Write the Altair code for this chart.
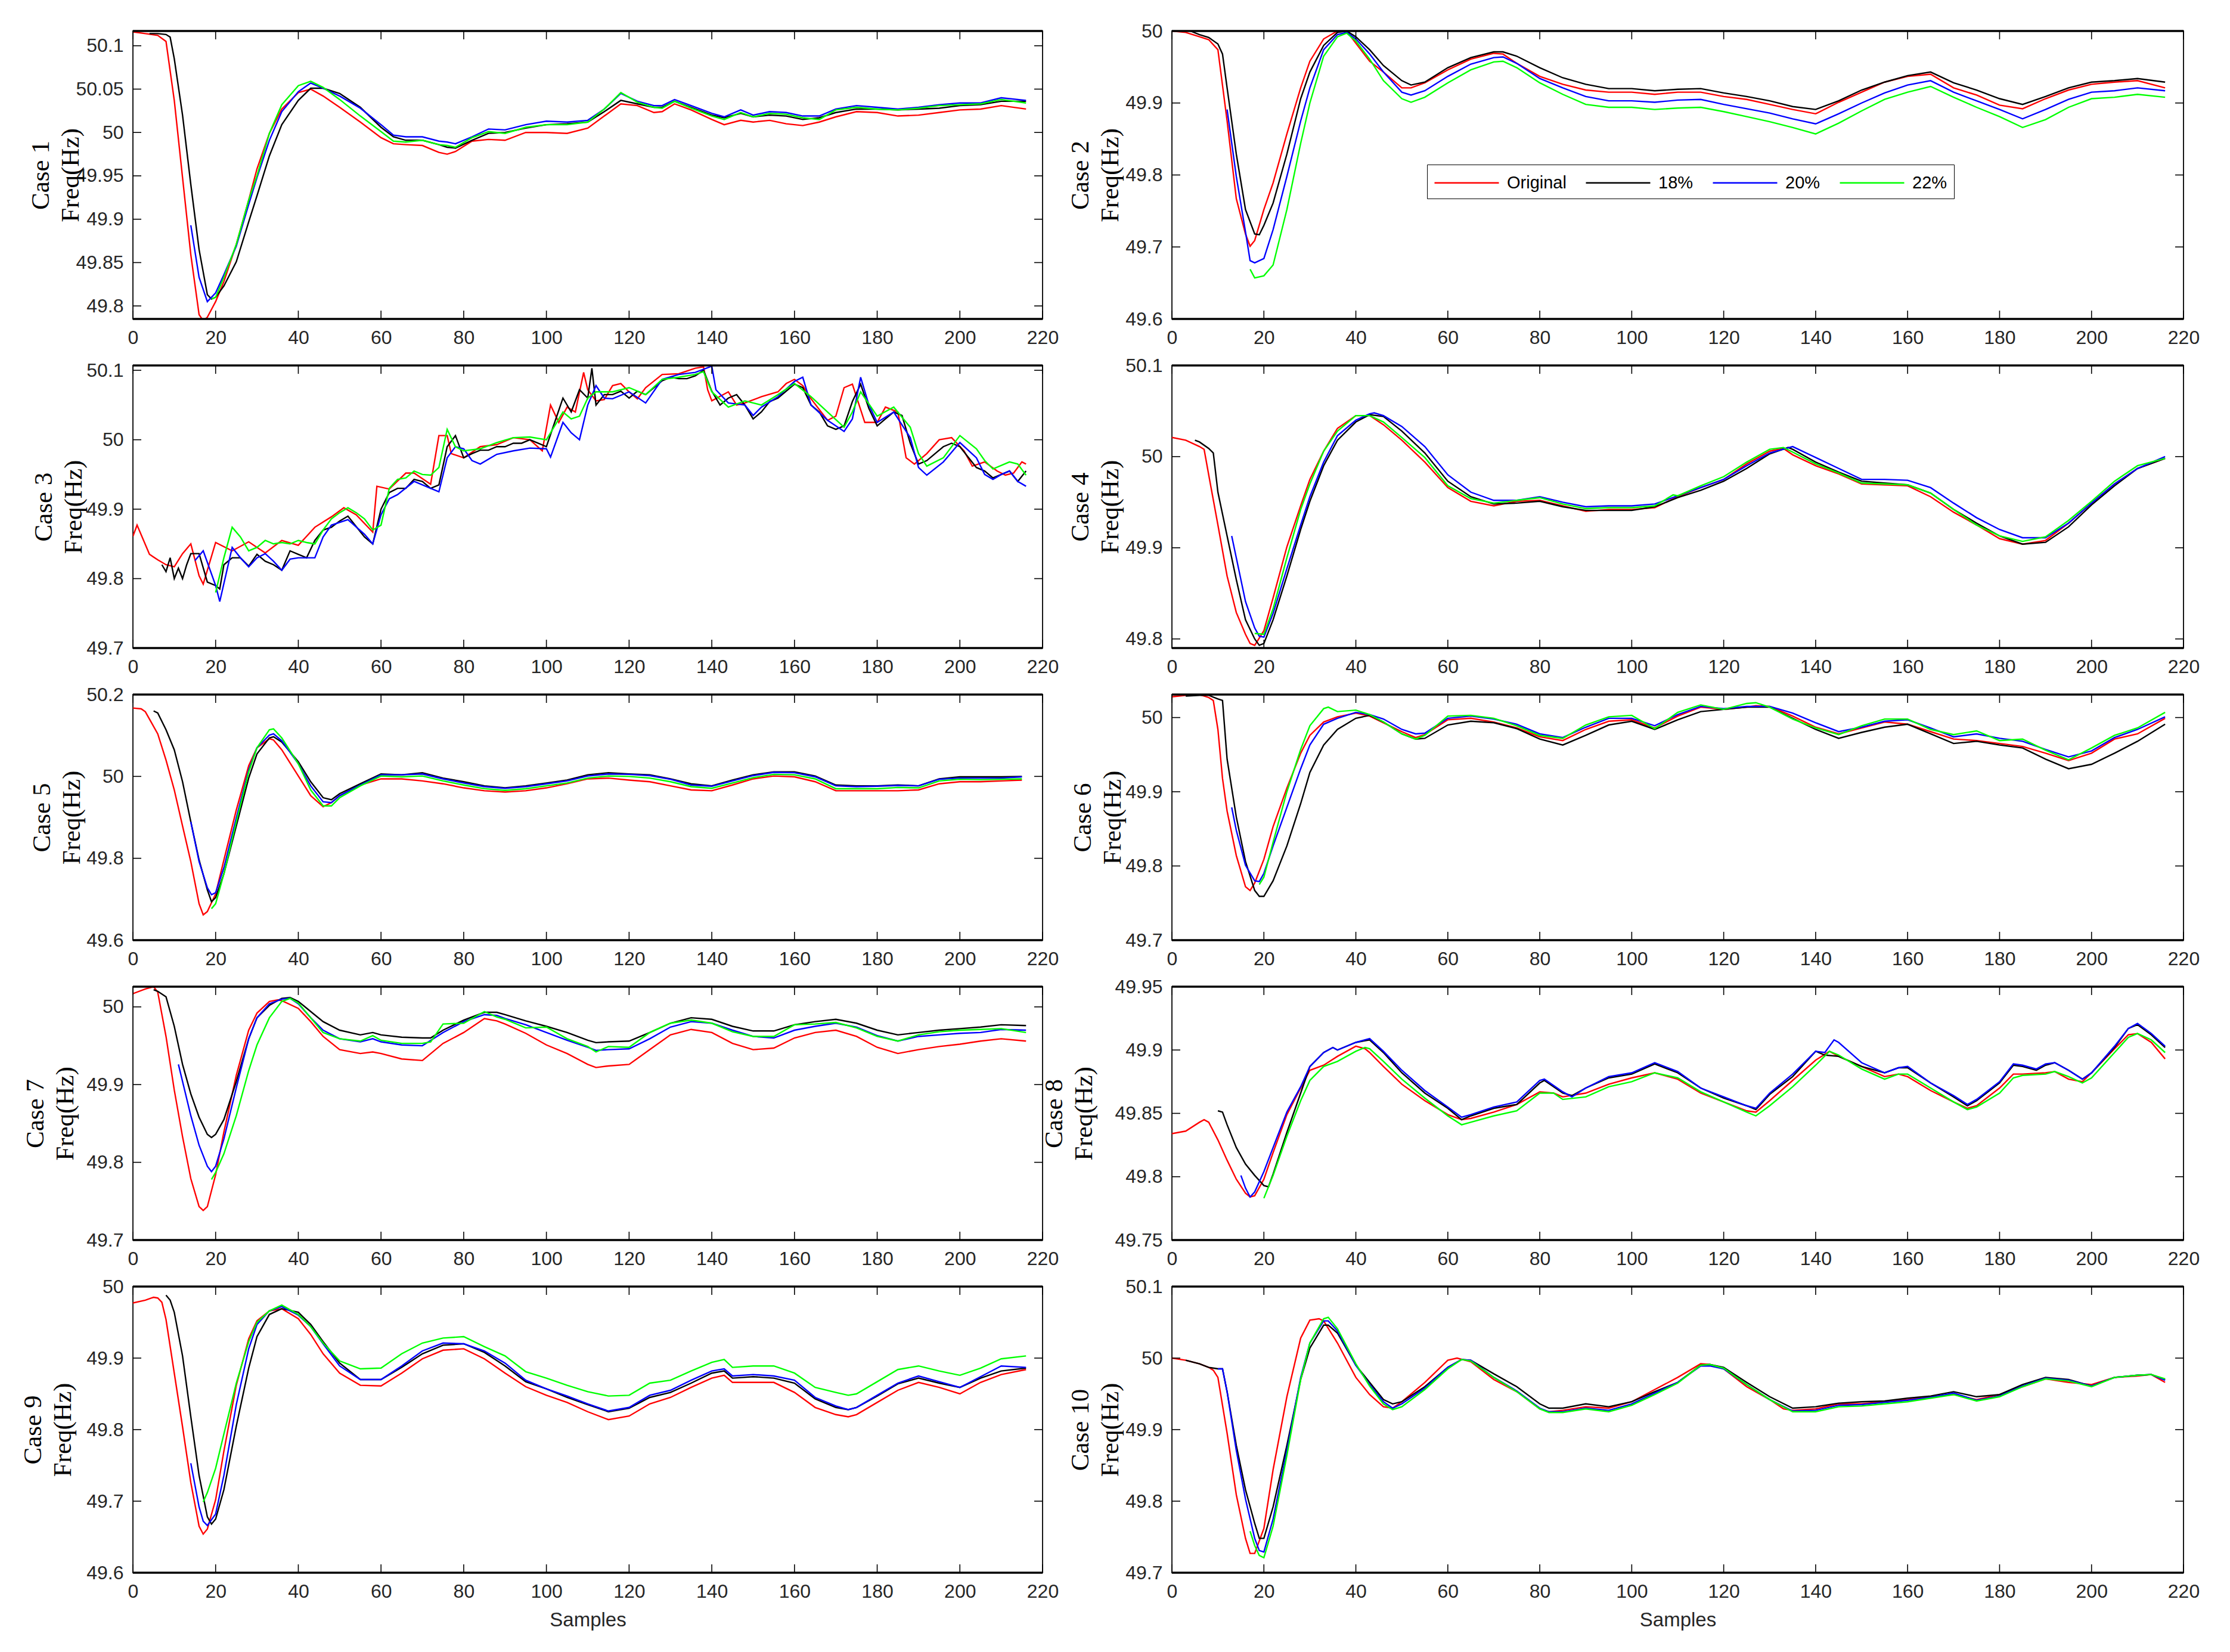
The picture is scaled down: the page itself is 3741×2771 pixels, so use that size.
import altair as alt
import pandas as pd

SERIES = ["Original", "18%", "20%", "22%"]
COLORS = ["#ff0000", "#000000", "#0000ff", "#00ff00"]
X_TICKS = [0, 20, 40, 60, 80, 100, 120, 140, 160, 180, 200, 220]

# ---------------- Case 1 ----------------
C1_ORIG = [(0,50.116),(3,50.114),(6,50.112),(8,50.105),(10,50.037),(12,49.948),(14,49.859),(16,49.79),(17,49.783),(18,49.787),(20,49.805),(22,49.828),(25,49.871),(28,49.922),(30,49.958),(33,49.999),(36,50.027),(40,50.046),(43,50.05),(46,50.042),(50,50.029),(55,50.012),(60,49.994),(63,49.987),(66,49.986),(70,49.985),(74,49.977),(76,49.975),(78,49.978),(82,49.99),(86,49.992),(90,49.991),(95,50.0),(100,50.0),(105,49.999),(110,50.005),(114,50.019),(118,50.033),(122,50.031),(126,50.023),(128,50.024),(131,50.033),(135,50.026),(140,50.015),(143,50.009),(147,50.014),(150,50.012),(154,50.014),(158,50.01),(162,50.008),(166,50.012),(170,50.018),(175,50.024),(180,50.023),(185,50.019),(190,50.02),(195,50.023),(200,50.026),(205,50.027),(210,50.031),(216,50.027)]
C1_P18 = [(4,50.114),(6,50.114),(8,50.113),(9,50.11),(10,50.085),(12,50.02),(14,49.94),(16,49.865),(18,49.813),(19,49.808),(20,49.81),(22,49.823),(25,49.851),(28,49.897),(30,49.927),(33,49.973),(36,50.009),(40,50.037),(43,50.051),(46,50.051),(50,50.045),(55,50.029),(60,50.006),(63,49.995),(66,49.991),(70,49.991),(74,49.986),(76,49.983),(78,49.982),(82,49.991),(86,49.999),(90,50.0),(95,50.005),(100,50.009),(105,50.01),(110,50.012),(114,50.024),(118,50.037),(122,50.033),(126,50.029),(128,50.029),(131,50.036),(135,50.029),(140,50.02),(143,50.017),(147,50.022),(150,50.018),(154,50.02),(158,50.019),(162,50.015),(166,50.017),(170,50.023),(175,50.027),(180,50.027),(185,50.026),(190,50.027),(195,50.028),(200,50.031),(205,50.032),(210,50.036),(216,50.036)]
C1_P20 = [(14,49.893),(16,49.833),(18,49.805),(20,49.815),(22,49.836),(25,49.869),(28,49.917),(30,49.948),(33,49.991),(36,50.024),(40,50.047),(43,50.057),(46,50.051),(50,50.042),(55,50.028),(60,50.009),(63,49.997),(66,49.995),(70,49.995),(74,49.99),(76,49.989),(78,49.987),(82,49.995),(86,50.004),(90,50.003),(95,50.009),(100,50.013),(105,50.012),(110,50.014),(114,50.027),(118,50.045),(122,50.036),(126,50.031),(128,50.031),(131,50.038),(135,50.031),(140,50.022),(143,50.018),(147,50.026),(150,50.02),(154,50.024),(158,50.023),(162,50.019),(166,50.019),(170,50.027),(175,50.031),(180,50.029),(185,50.027),(190,50.029),(195,50.032),(200,50.034),(205,50.034),(210,50.04),(216,50.037)]
C1_P22 = [(19,49.808),(20,49.81),(22,49.833),(25,49.871),(28,49.922),(30,49.95),(33,49.999),(36,50.032),(40,50.054),(43,50.059),(46,50.052),(50,50.038),(55,50.019),(60,50.001),(63,49.99),(66,49.989),(70,49.991),(74,49.986),(76,49.985),(78,49.983),(82,49.994),(86,50.001),(90,49.999),(95,50.006),(100,50.009),(105,50.009),(110,50.012),(114,50.027),(118,50.046),(122,50.035),(126,50.029),(128,50.028),(131,50.036),(135,50.028),(140,50.019),(143,50.015),(147,50.023),(150,50.018),(154,50.022),(158,50.021),(162,50.017),(166,50.015),(170,50.026),(175,50.029),(180,50.027),(185,50.026),(190,50.028),(195,50.031),(200,50.032),(205,50.033),(210,50.038),(216,50.034)]

# ---------------- Case 2 ----------------
C2_ORIG = [(0,50.0),(3,49.998),(6,49.992),(8,49.988),(10,49.974),(12,49.875),(14,49.767),(16,49.718),(17,49.701),(18,49.709),(20,49.752),(22,49.789),(25,49.857),(28,49.921),(30,49.958),(33,49.989),(36,50.0),(38,50.0),(40,49.983),(43,49.958),(46,49.943),(50,49.921),(52,49.921),(55,49.928),(60,49.946),(65,49.961),(70,49.969),(72,49.968),(75,49.955),(80,49.937),(85,49.926),(90,49.918),(95,49.915),(100,49.915),(105,49.912),(110,49.915),(115,49.915),(120,49.909),(125,49.905),(130,49.898),(135,49.891),(140,49.885),(145,49.901),(150,49.915),(155,49.929),(160,49.937),(165,49.94),(170,49.921),(175,49.911),(180,49.897),(185,49.892),(190,49.906),(195,49.918),(200,49.926),(205,49.929),(210,49.931),(216,49.921)]
C2_P18 = [(4,50.0),(6,49.995),(8,49.991),(10,49.982),(11,49.968),(12,49.921),(14,49.829),(16,49.752),(18,49.718),(19,49.717),(20,49.73),(22,49.761),(25,49.829),(28,49.906),(30,49.943),(33,49.98),(36,49.998),(38,50.0),(40,49.992),(43,49.974),(46,49.952),(50,49.931),(52,49.925),(55,49.929),(60,49.949),(65,49.963),(70,49.971),(72,49.971),(75,49.965),(80,49.949),(85,49.935),(90,49.926),(95,49.92),(100,49.92),(105,49.917),(110,49.919),(115,49.92),(120,49.914),(125,49.909),(130,49.903),(135,49.895),(140,49.891),(145,49.903),(150,49.918),(155,49.929),(160,49.938),(165,49.943),(170,49.928),(175,49.918),(180,49.906),(185,49.898),(190,49.909),(195,49.921),(200,49.929),(205,49.931),(210,49.934),(216,49.929)]
C2_P20 = [(12,49.891),(14,49.798),(16,49.721),(17,49.681),(18,49.678),(20,49.684),(22,49.724),(25,49.798),(28,49.875),(30,49.921),(33,49.974),(36,49.995),(38,49.998),(40,49.989),(43,49.968),(46,49.943),(50,49.915),(52,49.911),(55,49.917),(60,49.937),(65,49.954),(70,49.963),(72,49.964),(75,49.955),(80,49.934),(85,49.921),(90,49.909),(95,49.903),(100,49.903),(105,49.901),(110,49.904),(115,49.905),(120,49.898),(125,49.892),(130,49.886),(135,49.878),(140,49.871),(145,49.885),(150,49.9),(155,49.914),(160,49.925),(165,49.931),(170,49.915),(175,49.903),(180,49.891),(185,49.878),(190,49.891),(195,49.905),(200,49.915),(205,49.917),(210,49.921),(216,49.917)]
C2_P22 = [(17,49.669),(18,49.657),(20,49.66),(22,49.675),(25,49.752),(28,49.844),(30,49.9),(33,49.965),(36,49.992),(38,49.997),(40,49.986),(43,49.961),(46,49.931),(50,49.906),(52,49.901),(55,49.908),(60,49.928),(65,49.946),(70,49.957),(72,49.958),(75,49.949),(80,49.928),(85,49.912),(90,49.898),(95,49.894),(100,49.894),(105,49.891),(110,49.893),(115,49.894),(120,49.888),(125,49.881),(130,49.874),(135,49.866),(140,49.857),(145,49.872),(150,49.889),(155,49.905),(160,49.915),(165,49.923),(170,49.908),(175,49.894),(180,49.881),(185,49.866),(190,49.877),(195,49.894),(200,49.906),(205,49.908),(210,49.912),(216,49.908)]

# ---------------- Case 3 ----------------
C3_ORIG = [(0,49.861),(1,49.877),(4,49.835),(6,49.827),(8,49.82),(10,49.817),(12,49.836),(14,49.85),(16,49.804),(17,49.792),(20,49.852),(24,49.84),(28,49.853),(32,49.837),(36,49.855),(40,49.848),(44,49.874),(48,49.889),(51,49.902),(54,49.892),(58,49.867),(59,49.933),(62,49.929),(66,49.952),(68,49.952),(72,49.936),(74,50.006),(76,50.006),(77,49.98),(80,49.974),(84,49.99),(88,49.993),(92,50.003),(96,50.0),(99,49.984),(101,50.05),(103,50.025),(105,50.047),(107,50.04),(109,50.097),(110,50.072),(112,50.056),(114,50.058),(116,50.078),(118,50.081),(120,50.069),(122,50.059),(124,50.075),(128,50.094),(132,50.095),(136,50.103),(138,50.105),(139,50.072),(140,50.056),(144,50.069),(146,50.05),(148,50.053),(152,50.062),(156,50.069),(158,50.081),(160,50.087),(162,50.078),(164,50.059),(168,50.028),(170,50.034),(172,50.075),(174,50.08),(177,50.025),(180,50.025),(182,50.047),(185,50.04),(187,49.974),(189,49.965),(192,49.98),(195,50.0),(198,50.003),(201,49.984),(203,49.962),(206,49.968),(209,49.955),(211,49.949),(213,49.952),(215,49.968),(216,49.965)]
C3_P18 = [(7,49.82),(8,49.81),(9,49.83),(10,49.80),(11,49.815),(12,49.80),(13,49.82),(14,49.836),(16,49.836),(18,49.795),(20,49.79),(21,49.785),(22,49.82),(24,49.83),(26,49.83),(28,49.818),(30,49.835),(32,49.825),(34,49.82),(36,49.812),(38,49.84),(40,49.835),(42,49.83),(44,49.855),(46,49.87),(48,49.874),(50,49.883),(52,49.89),(54,49.875),(56,49.86),(58,49.85),(60,49.9),(62,49.924),(64,49.93),(66,49.93),(68,49.943),(70,49.94),(72,49.93),(74,49.935),(76,49.99),(78,50.006),(80,49.974),(82,49.98),(84,49.985),(86,49.985),(88,49.99),(90,49.99),(92,49.995),(94,49.995),(96,50.0),(98,49.995),(100,49.99),(102,50.025),(104,50.06),(106,50.04),(108,50.072),(110,50.06),(111,50.103),(112,50.05),(114,50.065),(116,50.065),(118,50.07),(120,50.06),(122,50.07),(124,50.065),(126,50.075),(128,50.085),(130,50.09),(132,50.088),(134,50.088),(136,50.092),(138,50.1),(140,50.07),(142,50.05),(144,50.06),(146,50.065),(148,50.05),(150,50.03),(152,50.04),(154,50.055),(156,50.06),(158,50.07),(160,50.08),(162,50.075),(164,50.05),(166,50.04),(168,50.02),(170,50.015),(172,50.02),(174,50.055),(176,50.08),(178,50.045),(180,50.02),(182,50.03),(184,50.04),(186,50.035),(188,49.995),(190,49.965),(192,49.97),(194,49.98),(196,49.99),(198,49.995),(200,49.99),(202,49.975),(204,49.96),(206,49.955),(208,49.945),(210,49.95),(212,49.955),(214,49.94),(216,49.955)]
C3_P20 = [(15,49.826),(17,49.84),(20,49.79),(21,49.767),(24,49.845),(26,49.83),(28,49.817),(30,49.83),(32,49.836),(34,49.825),(36,49.812),(38,49.828),(40,49.83),(44,49.83),(46,49.86),(48,49.877),(52,49.885),(56,49.864),(58,49.85),(60,49.892),(62,49.915),(64,49.921),(68,49.94),(72,49.93),(74,49.925),(76,49.974),(78,49.99),(80,49.987),(82,49.97),(84,49.965),(88,49.979),(92,49.984),(96,49.988),(100,49.987),(101,49.975),(104,50.025),(106,50.01),(108,50.0),(110,50.05),(112,50.078),(114,50.06),(116,50.059),(120,50.069),(124,50.053),(128,50.087),(132,50.094),(136,50.097),(140,50.106),(141,50.072),(144,50.053),(148,50.05),(150,50.035),(152,50.047),(156,50.062),(160,50.084),(162,50.09),(164,50.05),(168,50.028),(172,50.012),(174,50.03),(176,50.09),(178,50.05),(180,50.025),(184,50.04),(188,50.003),(190,49.96),(192,49.949),(196,49.968),(200,49.996),(204,49.974),(206,49.95),(208,49.943),(210,49.95),(212,49.955),(214,49.94),(216,49.933)]
C3_P22 = [(20,49.78),(22,49.83),(24,49.874),(26,49.86),(28,49.84),(30,49.845),(32,49.855),(34,49.85),(36,49.852),(38,49.85),(40,49.855),(42,49.852),(44,49.85),(46,49.87),(48,49.886),(50,49.895),(52,49.902),(54,49.895),(56,49.886),(58,49.87),(60,49.877),(62,49.93),(64,49.943),(66,49.945),(68,49.955),(70,49.95),(72,49.949),(74,49.96),(76,50.015),(78,49.99),(80,49.984),(84,49.987),(88,49.996),(92,50.003),(96,50.004),(100,50.0),(102,50.02),(104,50.04),(106,50.03),(108,50.034),(110,50.06),(112,50.069),(116,50.069),(120,50.075),(124,50.065),(128,50.087),(132,50.09),(136,50.094),(138,50.098),(140,50.069),(144,50.047),(148,50.056),(152,50.05),(156,50.065),(160,50.081),(164,50.062),(168,50.04),(172,50.018),(174,50.04),(176,50.069),(180,50.034),(184,50.047),(188,50.018),(190,49.98),(192,49.962),(196,49.974),(200,50.006),(204,49.987),(206,49.97),(208,49.958),(212,49.968),(214,49.965),(216,49.949)]

# ---------------- Case 4 ----------------
C4_ORIG = [(0,50.021),(3,50.018),(6,50.011),(7,50.008),(8,49.98),(10,49.925),(12,49.869),(14,49.829),(16,49.805),(17,49.795),(18,49.793),(20,49.809),(22,49.845),(25,49.901),(28,49.946),(30,49.975),(33,50.006),(36,50.031),(40,50.045),(43,50.045),(46,50.035),(50,50.018),(55,49.994),(60,49.966),(65,49.951),(70,49.946),(75,49.951),(80,49.952),(85,49.946),(90,49.94),(95,49.942),(100,49.942),(105,49.944),(110,49.956),(115,49.966),(120,49.975),(125,49.992),(130,50.006),(133,50.009),(135,50.002),(140,49.99),(145,49.981),(150,49.97),(155,49.969),(160,49.968),(165,49.956),(170,49.939),(175,49.925),(180,49.91),(185,49.904),(190,49.908),(195,49.927),(200,49.949),(205,49.97),(210,49.987),(216,49.998)]
C4_P18 = [(5,50.018),(6,50.016),(8,50.009),(9,50.004),(10,49.961),(12,49.913),(14,49.865),(16,49.821),(18,49.8),(19,49.793),(20,49.795),(22,49.821),(25,49.869),(28,49.92),(30,49.951),(33,49.99),(36,50.018),(40,50.038),(43,50.046),(46,50.044),(50,50.028),(55,50.004),(60,49.973),(65,49.956),(70,49.948),(75,49.949),(80,49.951),(85,49.945),(90,49.941),(95,49.941),(100,49.941),(105,49.945),(110,49.955),(115,49.963),(120,49.973),(125,49.987),(130,50.003),(134,50.01),(135,50.008),(140,49.994),(145,49.983),(150,49.973),(155,49.971),(160,49.969),(165,49.96),(170,49.942),(175,49.927),(180,49.913),(185,49.904),(190,49.906),(195,49.923),(200,49.947),(205,49.968),(210,49.987),(216,49.998)]
C4_P20 = [(13,49.913),(14,49.889),(16,49.841),(18,49.812),(19,49.803),(20,49.802),(22,49.828),(25,49.877),(28,49.925),(30,49.956),(33,49.994),(36,50.023),(40,50.04),(43,50.047),(44,50.048),(46,50.045),(50,50.033),(55,50.011),(60,49.98),(65,49.961),(70,49.952),(75,49.952),(80,49.956),(85,49.95),(90,49.945),(95,49.946),(100,49.946),(105,49.948),(110,49.957),(115,49.966),(120,49.975),(125,49.99),(130,50.004),(135,50.011),(140,49.999),(145,49.987),(150,49.975),(155,49.975),(160,49.974),(165,49.966),(170,49.949),(175,49.933),(180,49.92),(185,49.911),(190,49.911),(195,49.927),(200,49.949),(205,49.97),(210,49.987),(216,50.0)]
C4_P22 = [(18,49.806),(20,49.805),(22,49.833),(25,49.889),(28,49.942),(30,49.97),(33,50.006),(36,50.028),(40,50.045),(43,50.045),(46,50.038),(50,50.021),(55,49.999),(60,49.968),(65,49.954),(70,49.949),(75,49.952),(80,49.955),(85,49.948),(90,49.943),(95,49.944),(100,49.944),(105,49.946),(109,49.958),(110,49.957),(115,49.968),(120,49.978),(125,49.994),(130,50.008),(133,50.01),(135,50.005),(140,49.992),(145,49.982),(150,49.971),(155,49.97),(160,49.969),(165,49.96),(170,49.942),(175,49.925),(180,49.913),(185,49.907),(190,49.912),(195,49.93),(200,49.951),(205,49.973),(210,49.99),(216,49.998)]

# ---------------- Case 5 ----------------
C5_ORIG = [(0,50.167),(2,50.165),(3,50.158),(6,50.104),(8,50.04),(10,49.967),(12,49.879),(14,49.792),(16,49.689),(17,49.662),(18,49.67),(20,49.713),(22,49.796),(25,49.918),(28,50.026),(30,50.07),(33,50.092),(34,50.089),(36,50.065),(40,50.001),(43,49.953),(46,49.926),(48,49.936),(50,49.953),(55,49.979),(60,49.994),(65,49.994),(70,49.989),(75,49.982),(80,49.972),(85,49.965),(90,49.962),(95,49.965),(100,49.972),(105,49.982),(110,49.994),(115,49.996),(120,49.991),(125,49.987),(130,49.977),(135,49.967),(140,49.965),(145,49.979),(150,49.994),(155,50.001),(160,49.999),(165,49.987),(170,49.965),(175,49.965),(180,49.965),(185,49.965),(190,49.967),(195,49.982),(200,49.987),(205,49.987),(210,49.989),(215,49.991)]
C5_P18 = [(5,50.16),(6,50.155),(8,50.114),(10,50.065),(12,49.987),(14,49.889),(16,49.796),(18,49.723),(19,49.694),(20,49.704),(22,49.762),(25,49.879),(28,49.996),(30,50.055),(33,50.094),(34,50.097),(36,50.084),(40,50.036),(43,49.987),(46,49.948),(48,49.943),(50,49.958),(55,49.982),(60,50.006),(65,50.004),(70,50.009),(75,49.996),(80,49.987),(85,49.977),(90,49.972),(95,49.977),(100,49.984),(105,49.991),(110,50.004),(115,50.009),(120,50.006),(125,50.004),(130,49.994),(135,49.982),(140,49.977),(145,49.991),(150,50.004),(155,50.011),(160,50.011),(165,50.001),(170,49.979),(175,49.977),(180,49.977),(185,49.979),(190,49.977),(195,49.994),(200,49.999),(205,49.999),(210,49.999),(215,50.0)]
C5_P20 = [(14,49.889),(16,49.792),(18,49.728),(19,49.711),(20,49.716),(22,49.777),(25,49.899),(28,50.016),(30,50.07),(33,50.101),(34,50.104),(36,50.087),(40,50.031),(43,49.977),(46,49.938),(48,49.936),(50,49.953),(55,49.979),(60,50.004),(65,50.004),(70,50.006),(75,49.994),(80,49.984),(85,49.975),(90,49.971),(95,49.975),(100,49.982),(105,49.989),(110,50.001),(115,50.006),(120,50.005),(125,50.002),(130,49.993),(135,49.979),(140,49.976),(145,49.989),(150,50.002),(155,50.01),(160,50.009),(165,49.999),(170,49.977),(175,49.975),(180,49.976),(185,49.978),(190,49.977),(195,49.993),(200,49.996),(205,49.996),(210,49.996),(215,49.999)]
C5_P22 = [(19,49.677),(20,49.689),(22,49.762),(25,49.889),(28,50.011),(30,50.07),(33,50.114),(34,50.116),(36,50.094),(40,50.031),(43,49.967),(46,49.928),(48,49.928),(50,49.948),(55,49.977),(60,50.001),(65,49.999),(70,50.001),(75,49.989),(80,49.979),(85,49.97),(90,49.966),(95,49.97),(100,49.977),(105,49.984),(110,49.996),(115,50.001),(120,50.0),(125,49.996),(130,49.987),(135,49.975),(140,49.971),(145,49.984),(150,49.997),(155,50.005),(160,50.004),(165,49.994),(170,49.97),(175,49.97),(180,49.97),(185,49.973),(190,49.972),(195,49.989),(200,49.993),(205,49.992),(210,49.993),(215,49.994)]

# ---------------- Case 6 ----------------
C6_ORIG = [(0,50.028),(3,50.03),(6,50.031),(8,50.027),(9,50.023),(10,49.984),(11,49.918),(12,49.874),(14,49.814),(16,49.772),(17,49.767),(18,49.777),(20,49.809),(22,49.853),(25,49.905),(28,49.952),(30,49.976),(33,49.994),(36,50.001),(40,50.006),(43,50.002),(46,49.993),(50,49.981),(53,49.973),(55,49.977),(60,49.997),(65,49.999),(70,49.994),(75,49.986),(80,49.974),(85,49.969),(90,49.984),(95,49.995),(100,49.997),(105,49.986),(110,50.002),(115,50.014),(120,50.011),(125,50.014),(127,50.016),(130,50.015),(135,50.002),(140,49.987),(145,49.978),(150,49.986),(155,49.994),(160,49.991),(165,49.981),(170,49.971),(175,49.969),(180,49.965),(185,49.961),(190,49.952),(195,49.942),(200,49.952),(205,49.971),(210,49.978),(216,49.999)]
C6_P18 = [(3,50.029),(6,50.03),(8,50.03),(10,50.025),(11,50.023),(12,49.944),(14,49.866),(16,49.806),(18,49.767),(19,49.759),(20,49.759),(22,49.78),(25,49.827),(28,49.884),(30,49.926),(33,49.963),(36,49.984),(40,49.999),(43,50.003),(46,49.994),(50,49.978),(53,49.971),(55,49.972),(60,49.99),(65,49.995),(70,49.993),(75,49.985),(80,49.971),(85,49.963),(90,49.976),(95,49.99),(100,49.995),(105,49.984),(110,49.997),(115,50.008),(120,50.011),(125,50.014),(130,50.014),(135,49.999),(140,49.984),(145,49.972),(150,49.98),(155,49.987),(160,49.991),(165,49.978),(170,49.965),(175,49.968),(180,49.963),(185,49.959),(190,49.944),(195,49.931),(200,49.937),(205,49.952),(210,49.968),(216,49.991)]
C6_P20 = [(13,49.879),(14,49.848),(16,49.801),(18,49.78),(19,49.779),(20,49.79),(22,49.827),(25,49.879),(28,49.931),(30,49.963),(33,49.991),(36,49.999),(40,50.007),(43,50.004),(46,49.998),(50,49.984),(53,49.978),(55,49.979),(60,49.999),(65,50.002),(70,49.998),(75,49.991),(80,49.978),(85,49.973),(90,49.987),(95,49.999),(100,49.999),(105,49.989),(110,50.004),(115,50.015),(120,50.012),(125,50.015),(130,50.015),(135,50.006),(140,49.993),(145,49.981),(150,49.987),(155,49.995),(160,49.997),(165,49.986),(170,49.974),(175,49.978),(180,49.972),(185,49.968),(190,49.957),(195,49.947),(200,49.955),(205,49.973),(210,49.984),(216,50.001)]
C6_P22 = [(19,49.775),(20,49.785),(22,49.832),(25,49.9),(28,49.957),(30,49.989),(33,50.012),(34,50.014),(36,50.008),(40,50.01),(43,50.004),(46,49.994),(50,49.978),(53,49.971),(55,49.976),(60,50.002),(65,50.003),(70,49.999),(75,49.989),(80,49.976),(85,49.972),(90,49.99),(95,50.001),(100,50.003),(105,49.985),(110,50.007),(115,50.017),(120,50.011),(125,50.019),(127,50.02),(130,50.014),(135,49.998),(140,49.986),(145,49.977),(150,49.989),(155,49.998),(160,49.998),(165,49.984),(170,49.977),(175,49.982),(180,49.969),(185,49.971),(190,49.956),(195,49.943),(200,49.959),(205,49.976),(210,49.986),(216,50.007)]

# ---------------- Case 7 ----------------
C7_ORIG = [(0,50.017),(3,50.023),(5,50.026),(6,50.019),(8,49.962),(10,49.893),(12,49.833),(14,49.779),(16,49.743),(17,49.738),(18,49.743),(20,49.784),(22,49.839),(25,49.912),(28,49.97),(30,49.992),(33,50.007),(35,50.009),(36,50.008),(40,49.998),(43,49.981),(46,49.962),(50,49.945),(55,49.94),(58,49.942),(60,49.94),(65,49.933),(70,49.931),(75,49.953),(80,49.967),(85,49.985),(88,49.982),(90,49.978),(95,49.966),(100,49.951),(105,49.94),(110,49.926),(112,49.922),(115,49.924),(120,49.926),(125,49.945),(130,49.964),(135,49.971),(140,49.967),(145,49.953),(150,49.945),(155,49.947),(160,49.96),(165,49.967),(170,49.97),(175,49.962),(180,49.948),(185,49.94),(190,49.945),(195,49.949),(200,49.952),(205,49.956),(210,49.959),(216,49.956)]
C7_P18 = [(5,50.022),(6,50.02),(8,50.013),(10,49.975),(12,49.926),(14,49.888),(16,49.858),(18,49.836),(19,49.832),(20,49.836),(22,49.855),(25,49.904),(28,49.959),(30,49.986),(33,50.002),(36,50.011),(38,50.012),(40,50.007),(43,49.994),(46,49.981),(50,49.97),(55,49.964),(58,49.967),(60,49.964),(65,49.961),(70,49.96),(72,49.96),(75,49.97),(80,49.983),(85,49.993),(88,49.993),(90,49.99),(95,49.982),(100,49.975),(105,49.967),(110,49.957),(112,49.954),(115,49.955),(120,49.956),(125,49.967),(130,49.979),(135,49.986),(140,49.984),(145,49.975),(150,49.969),(155,49.969),(160,49.977),(165,49.981),(170,49.984),(175,49.979),(180,49.97),(185,49.964),(190,49.967),(195,49.97),(200,49.972),(205,49.974),(210,49.977),(216,49.976)]
C7_P20 = [(11,49.926),(12,49.904),(14,49.86),(16,49.822),(18,49.795),(19,49.788),(20,49.795),(22,49.83),(25,49.896),(28,49.959),(30,49.986),(33,50.004),(36,50.01),(38,50.011),(40,50.004),(43,49.986),(46,49.97),(50,49.959),(55,49.955),(58,49.959),(60,49.955),(65,49.951),(70,49.95),(75,49.967),(80,49.981),(85,49.99),(88,49.989),(90,49.985),(95,49.977),(100,49.967),(105,49.957),(110,49.948),(112,49.944),(115,49.945),(120,49.946),(125,49.959),(130,49.974),(135,49.981),(140,49.979),(145,49.97),(150,49.962),(155,49.96),(160,49.97),(165,49.975),(170,49.979),(175,49.974),(180,49.963),(185,49.956),(190,49.962),(195,49.964),(200,49.966),(205,49.967),(210,49.971),(216,49.97)]
C7_P22 = [(19,49.778),(20,49.787),(22,49.811),(25,49.86),(28,49.918),(30,49.951),(33,49.986),(36,50.007),(38,50.011),(40,50.005),(43,49.986),(46,49.967),(50,49.959),(55,49.956),(58,49.963),(60,49.957),(65,49.953),(70,49.953),(72,49.955),(75,49.978),(80,49.979),(85,49.994),(88,49.987),(90,49.984),(95,49.973),(100,49.974),(105,49.959),(110,49.949),(112,49.942),(115,49.949),(120,49.948),(125,49.967),(130,49.979),(135,49.983),(140,49.979),(145,49.968),(150,49.962),(155,49.962),(160,49.977),(165,49.978),(170,49.98),(175,49.973),(180,49.962),(185,49.956),(190,49.964),(195,49.968),(200,49.97),(205,49.971),(210,49.972),(216,49.967)]

# ---------------- Case 8 ----------------
C8_ORIG = [(0,49.834),(3,49.836),(6,49.843),(7,49.845),(8,49.843),(10,49.829),(12,49.813),(14,49.798),(16,49.787),(17,49.784),(18,49.785),(20,49.798),(22,49.819),(25,49.849),(28,49.87),(30,49.884),(33,49.888),(36,49.895),(40,49.903),(42,49.901),(43,49.898),(46,49.887),(50,49.873),(55,49.86),(60,49.849),(63,49.845),(65,49.846),(70,49.851),(75,49.857),(80,49.867),(83,49.866),(85,49.863),(90,49.866),(95,49.873),(100,49.878),(105,49.882),(110,49.877),(115,49.866),(120,49.859),(125,49.852),(127,49.851),(130,49.86),(135,49.876),(140,49.892),(143,49.899),(145,49.895),(150,49.887),(155,49.879),(158,49.881),(160,49.879),(165,49.868),(170,49.859),(173,49.854),(175,49.856),(180,49.87),(183,49.881),(185,49.881),(190,49.882),(192,49.883),(195,49.877),(198,49.875),(200,49.882),(205,49.901),(208,49.912),(210,49.913),(213,49.906),(216,49.893)]
C8_P18 = [(10,49.852),(11,49.851),(12,49.841),(14,49.823),(16,49.81),(18,49.801),(20,49.793),(21,49.792),(22,49.802),(25,49.835),(28,49.866),(30,49.887),(33,49.898),(35,49.902),(36,49.9),(40,49.906),(43,49.908),(46,49.898),(50,49.882),(55,49.866),(60,49.854),(63,49.845),(65,49.848),(70,49.854),(75,49.857),(80,49.874),(81,49.876),(85,49.866),(87,49.864),(90,49.87),(95,49.878),(100,49.881),(105,49.889),(110,49.882),(115,49.87),(120,49.862),(125,49.856),(127,49.853),(130,49.865),(135,49.879),(140,49.899),(142,49.896),(145,49.895),(150,49.887),(155,49.882),(158,49.886),(160,49.886),(165,49.874),(170,49.863),(173,49.856),(175,49.86),(180,49.874),(183,49.888),(185,49.887),(188,49.884),(190,49.888),(192,49.89),(195,49.884),(198,49.877),(200,49.882),(205,49.902),(208,49.917),(210,49.92),(213,49.912),(216,49.902)]
C8_P20 = [(15,49.801),(16,49.791),(17,49.784),(18,49.788),(20,49.804),(22,49.823),(25,49.851),(28,49.871),(30,49.887),(33,49.898),(35,49.902),(36,49.9),(40,49.906),(43,49.909),(46,49.899),(50,49.884),(55,49.868),(60,49.855),(63,49.847),(65,49.849),(70,49.855),(75,49.859),(80,49.876),(81,49.877),(85,49.867),(87,49.863),(90,49.87),(95,49.879),(100,49.882),(105,49.89),(110,49.883),(115,49.87),(120,49.863),(125,49.856),(127,49.854),(130,49.866),(135,49.881),(140,49.899),(142,49.898),(144,49.908),(145,49.906),(150,49.89),(155,49.882),(158,49.886),(160,49.887),(165,49.874),(170,49.864),(173,49.857),(175,49.861),(180,49.875),(183,49.889),(185,49.888),(188,49.885),(190,49.889),(192,49.89),(195,49.884),(198,49.877),(200,49.882),(205,49.903),(208,49.917),(210,49.921),(213,49.913),(216,49.903)]
C8_P22 = [(20,49.783),(22,49.801),(25,49.832),(28,49.86),(30,49.876),(33,49.887),(36,49.891),(40,49.899),(42,49.902),(43,49.901),(46,49.891),(50,49.877),(55,49.862),(60,49.848),(63,49.841),(65,49.843),(70,49.848),(75,49.852),(80,49.866),(83,49.866),(85,49.861),(90,49.863),(95,49.871),(100,49.875),(105,49.882),(110,49.878),(115,49.867),(120,49.859),(125,49.851),(127,49.848),(130,49.856),(135,49.871),(140,49.888),(143,49.899),(145,49.896),(150,49.885),(155,49.877),(158,49.881),(160,49.881),(165,49.87),(170,49.859),(173,49.853),(175,49.855),(180,49.866),(183,49.878),(185,49.88),(190,49.881),(192,49.883),(195,49.879),(198,49.874),(200,49.878),(205,49.898),(208,49.91),(210,49.913),(213,49.908),(216,49.898)]

# ---------------- Case 9 ----------------
C9_ORIG = [(0,49.977),(3,49.981),(5,49.985),(6,49.984),(7,49.978),(8,49.954),(10,49.879),(12,49.804),(14,49.726),(16,49.665),(17,49.654),(18,49.661),(20,49.702),(22,49.77),(25,49.862),(28,49.927),(30,49.952),(33,49.966),(36,49.969),(40,49.955),(43,49.933),(46,49.906),(50,49.879),(55,49.862),(60,49.861),(65,49.879),(70,49.899),(75,49.911),(80,49.913),(85,49.899),(90,49.879),(95,49.86),(100,49.848),(105,49.838),(110,49.825),(115,49.814),(120,49.819),(125,49.836),(130,49.845),(135,49.859),(140,49.872),(143,49.876),(145,49.866),(150,49.866),(155,49.866),(160,49.852),(165,49.831),(170,49.821),(173,49.818),(175,49.821),(180,49.838),(185,49.855),(190,49.866),(195,49.859),(200,49.85),(205,49.866),(210,49.877),(216,49.884)]
C9_P18 = [(8,49.988),(9,49.981),(10,49.964),(12,49.903),(14,49.818),(16,49.736),(18,49.678),(19,49.668),(20,49.675),(22,49.716),(25,49.805),(28,49.886),(30,49.93),(33,49.961),(36,49.969),(40,49.964),(43,49.947),(46,49.923),(50,49.893),(55,49.87),(60,49.87),(65,49.887),(70,49.906),(75,49.918),(80,49.92),(85,49.908),(90,49.889),(95,49.867),(100,49.857),(105,49.845),(110,49.835),(115,49.825),(120,49.83),(125,49.845),(130,49.852),(135,49.865),(140,49.879),(143,49.882),(145,49.872),(150,49.874),(155,49.872),(160,49.865),(165,49.843),(170,49.831),(173,49.828),(175,49.831),(180,49.847),(185,49.864),(190,49.872),(195,49.865),(200,49.859),(205,49.872),(210,49.882),(216,49.886)]
C9_P20 = [(14,49.753),(16,49.692),(17,49.672),(18,49.666),(20,49.682),(22,49.736),(25,49.835),(28,49.913),(30,49.947),(33,49.966),(36,49.972),(40,49.96),(43,49.944),(46,49.92),(50,49.889),(55,49.87),(60,49.87),(65,49.889),(70,49.91),(75,49.921),(80,49.92),(85,49.91),(90,49.893),(95,49.869),(100,49.857),(105,49.847),(110,49.836),(115,49.826),(120,49.831),(125,49.848),(130,49.855),(135,49.869),(140,49.882),(143,49.885),(145,49.875),(150,49.877),(155,49.875),(160,49.869),(165,49.845),(170,49.833),(173,49.828),(175,49.831),(180,49.848),(185,49.865),(190,49.875),(195,49.867),(200,49.859),(205,49.874),(210,49.889),(216,49.887)]
C9_P22 = [(17,49.699),(18,49.712),(20,49.746),(22,49.794),(25,49.865),(28,49.923),(30,49.95),(33,49.966),(36,49.974),(40,49.961),(43,49.944),(46,49.921),(50,49.896),(55,49.885),(60,49.886),(65,49.906),(70,49.921),(75,49.928),(80,49.93),(85,49.916),(90,49.903),(95,49.881),(100,49.872),(105,49.862),(110,49.853),(115,49.847),(120,49.848),(125,49.865),(130,49.869),(135,49.882),(140,49.894),(143,49.898),(145,49.887),(150,49.889),(155,49.889),(160,49.879),(165,49.859),(170,49.852),(173,49.848),(175,49.85),(180,49.867),(185,49.884),(190,49.889),(195,49.882),(200,49.876),(205,49.886),(210,49.899),(216,49.903)]

# ---------------- Case 10 ----------------
C10_ORIG = [(0,50.0),(3,49.997),(6,49.992),(8,49.987),(9,49.983),(10,49.973),(12,49.895),(14,49.809),(16,49.748),(17,49.727),(18,49.727),(20,49.762),(22,49.844),(25,49.946),(28,50.028),(30,50.053),(32,50.055),(33,50.052),(36,50.021),(40,49.973),(43,49.949),(46,49.932),(48,49.93),(50,49.939),(55,49.966),(60,49.997),(62,50.0),(65,49.995),(70,49.97),(75,49.953),(80,49.929),(82,49.925),(85,49.927),(90,49.932),(95,49.93),(100,49.939),(105,49.956),(110,49.973),(115,49.992),(117,49.991),(120,49.985),(125,49.96),(130,49.942),(133,49.929),(135,49.927),(140,49.929),(145,49.936),(150,49.936),(155,49.939),(160,49.942),(165,49.946),(170,49.949),(175,49.942),(180,49.949),(185,49.96),(190,49.971),(195,49.966),(200,49.963),(205,49.973),(210,49.975),(213,49.977),(216,49.966)]
C10_P18 = [(3,49.997),(6,49.992),(8,49.987),(10,49.985),(11,49.985),(12,49.953),(14,49.878),(16,49.816),(18,49.769),(19,49.748),(20,49.748),(22,49.792),(25,49.878),(28,49.97),(30,50.014),(33,50.046),(34,50.046),(36,50.035),(40,49.99),(43,49.966),(46,49.942),(48,49.936),(50,49.939),(55,49.96),(60,49.987),(63,49.998),(65,49.997),(70,49.978),(75,49.96),(80,49.936),(82,49.93),(85,49.93),(90,49.936),(95,49.932),(100,49.939),(105,49.953),(110,49.966),(115,49.99),(117,49.991),(120,49.987),(125,49.966),(130,49.946),(135,49.93),(140,49.932),(145,49.937),(150,49.939),(155,49.94),(160,49.944),(165,49.947),(170,49.953),(175,49.946),(180,49.949),(185,49.963),(190,49.973),(195,49.97),(200,49.961),(205,49.973),(210,49.976),(213,49.977),(216,49.97)]
C10_P20 = [(10,49.985),(11,49.985),(12,49.953),(14,49.871),(16,49.803),(18,49.748),(19,49.731),(20,49.729),(22,49.775),(25,49.871),(28,49.973),(30,50.021),(33,50.052),(34,50.052),(36,50.038),(40,49.99),(43,49.963),(46,49.939),(48,49.93),(50,49.936),(55,49.958),(60,49.987),(63,49.998),(65,49.997),(70,49.973),(75,49.954),(80,49.93),(82,49.925),(85,49.925),(90,49.93),(95,49.927),(100,49.936),(105,49.951),(110,49.966),(115,49.989),(117,49.989),(120,49.985),(125,49.963),(130,49.942),(135,49.926),(140,49.927),(145,49.934),(150,49.935),(155,49.938),(160,49.941),(165,49.945),(170,49.951),(175,49.941),(180,49.947),(185,49.961),(190,49.972),(195,49.969),(200,49.961),(205,49.973),(210,49.976),(213,49.977),(216,49.969)]
C10_P22 = [(17,49.758),(18,49.738),(19,49.724),(20,49.721),(22,49.765),(25,49.864),(28,49.97),(30,50.021),(33,50.055),(34,50.057),(36,50.041),(40,49.992),(43,49.961),(46,49.936),(48,49.928),(50,49.932),(55,49.956),(60,49.985),(63,49.998),(65,49.996),(70,49.973),(75,49.953),(80,49.929),(82,49.924),(85,49.924),(90,49.929),(95,49.925),(100,49.934),(105,49.949),(110,49.965),(115,49.99),(117,49.991),(120,49.986),(125,49.963),(130,49.942),(135,49.925),(140,49.925),(145,49.932),(150,49.933),(155,49.936),(160,49.939),(165,49.944),(170,49.949),(175,49.94),(180,49.946),(185,49.96),(190,49.971),(195,49.968),(200,49.96),(205,49.973),(210,49.976),(213,49.977),(216,49.971)]

# y-axis domains and tick values per case
Y_DOMAINS = [[49.785, 50.117], [49.6, 50.0], [49.7, 50.107], [49.79, 50.1], [49.6, 50.2],
             [49.7, 50.031], [49.7, 50.026], [49.75, 49.95], [49.6, 50.0], [49.7, 50.1]]
Y_TICKS = [[49.8, 49.85, 49.9, 49.95, 50.0, 50.05, 50.1],
           [49.6, 49.7, 49.8, 49.9, 50.0],
           [49.7, 49.8, 49.9, 50.0, 50.1],
           [49.8, 49.9, 50.0, 50.1],
           [49.6, 49.8, 50.0, 50.2],
           [49.7, 49.8, 49.9, 50.0],
           [49.7, 49.8, 49.9, 50.0],
           [49.75, 49.8, 49.85, 49.9, 49.95],
           [49.6, 49.7, 49.8, 49.9, 50.0],
           [49.7, 49.8, 49.9, 50.0, 50.1]]
CASES = ["Case 1", "Case 2", "Case 3", "Case 4", "Case 5",
         "Case 6", "Case 7", "Case 8", "Case 9", "Case 10"]
DATA = [[C1_ORIG, C1_P18, C1_P20, C1_P22], [C2_ORIG, C2_P18, C2_P20, C2_P22],
        [C3_ORIG, C3_P18, C3_P20, C3_P22], [C4_ORIG, C4_P18, C4_P20, C4_P22],
        [C5_ORIG, C5_P18, C5_P20, C5_P22], [C6_ORIG, C6_P18, C6_P20, C6_P22],
        [C7_ORIG, C7_P18, C7_P20, C7_P22], [C8_ORIG, C8_P18, C8_P20, C8_P22],
        [C9_ORIG, C9_P18, C9_P20, C9_P22], [C10_ORIG, C10_P18, C10_P20, C10_P22]]

# layout (pixels)
W_LEFT, W_RIGHT = 1526, 1697
ROW_H = [483, 474, 412, 425, 480]
# baseline of the first title line ("Case N"), relative to the plot's left edge
TITLE_X = [-142, -141, -137, -141, -140, -137, -151, -185, -155, -141]
TICK_LEN = 14


def make_panel(i, W, H):
    rows = []
    for s, pts in zip(SERIES, DATA[i]):
        for x, y in pts:
            rows.append({"x": x, "y": y, "series": s})
    df = pd.DataFrame(rows)
    bottom = i >= 8
    xaxis = alt.Axis(values=X_TICKS, labelFlush=False, title="Samples" if bottom else None)
    yaxis = alt.Axis(values=Y_TICKS[i], format="~g", title=[CASES[i], "Freq(Hz)"],
                     titleX=TITLE_X[i], titleY=H / 2)
    xenc = alt.X("x:Q", scale=alt.Scale(domain=[0, 220], nice=False, zero=False), axis=xaxis)
    yenc = alt.Y("y:Q", scale=alt.Scale(domain=Y_DOMAINS[i], nice=False, zero=False), axis=yaxis)
    if i == 1:
        # line-shaped symbol: nominal box 36 px, drawn line 108 px long;
        # trailing no-break spaces on the last label widen the box like the original
        leg = alt.Legend(title=None, orient="none", legendX=428, legendY=224,
                         direction="horizontal", symbolType="M-1,0H5", symbolSize=1296,
                         symbolStrokeWidth=2.5, labelFont="Liberation Sans", labelFontSize=29,
                         labelColor="#000000", labelOffset=84, columnPadding=27, padding=11,
                         strokeColor="#000000", fillColor="#ffffff", cornerRadius=0,
                         labelExpr="datum.label == '22%' ? '22%\u00a0\u00a0\u00a0\u00a0\u00a0\u00a0\u00a0\u00a0\u00a0\u00a0\u00a0\u00a0\u00a0' : datum.label")
    else:
        leg = None
    cenc = alt.Color("series:N", scale=alt.Scale(domain=SERIES, range=COLORS), legend=leg)

    layers = []
    for s in SERIES:
        layers.append(
            alt.Chart(df).transform_filter(alt.datum.series == s)
            .mark_line(strokeWidth=2.4, clip=True)
            .encode(x=xenc, y=yenc, color=cenc)
        )
    xt = pd.DataFrame({"x": X_TICKS})
    yt = pd.DataFrame({"y": Y_TICKS[i]})
    one = pd.DataFrame({"k": [0]})
    rule = dict(color="#000000", strokeWidth=1.6)
    layers += [
        alt.Chart(xt).mark_rule(**rule).encode(x=xenc, y=alt.value(H), y2=alt.value(H - TICK_LEN)),
        alt.Chart(xt).mark_rule(**rule).encode(x=xenc, y=alt.value(0), y2=alt.value(TICK_LEN)),
        alt.Chart(yt).mark_rule(**rule).encode(y=yenc, x=alt.value(0), x2=alt.value(TICK_LEN)),
        alt.Chart(yt).mark_rule(**rule).encode(y=yenc, x=alt.value(W), x2=alt.value(W - TICK_LEN)),
        alt.Chart(one).mark_rule(color="#000000", strokeWidth=3.5).encode(
            x=alt.value(0), x2=alt.value(W), y=alt.value(0)),
        alt.Chart(one).mark_rule(color="#000000", strokeWidth=3.5).encode(
            x=alt.value(0), x2=alt.value(W), y=alt.value(H)),
    ]
    return alt.layer(*layers).properties(width=W, height=H)


panels = []
for r in range(5):
    panels.append(make_panel(2 * r, W_LEFT, ROW_H[r]))
    panels.append(make_panel(2 * r + 1, W_RIGHT, ROW_H[r]))

chart = (
    alt.concat(*panels, columns=2, spacing={"row": 78, "column": 217}, bounds="flush")
    .resolve_scale(color="independent")
    .resolve_legend(color="independent")
    .properties(padding={"left": 25, "top": 27, "right": 10, "bottom": 10}, background="#ffffff")
    .configure_view(stroke="#000000", strokeWidth=1.8)
    .configure_axis(grid=False, domain=False, ticks=False, labelFont="Liberation Sans",
                    labelFontSize=32, labelColor="#262626")
    .configure_axisX(labelPadding=16, titleFont="Liberation Sans", titleFontSize=33,
                     titleFontWeight="normal", titleColor="#262626", titlePadding=16)
    .configure_axisY(labelPadding=16, titleFont="Liberation Serif", titleFontSize=43,
                     titleFontWeight="normal", titleColor="#000000", titleLineHeight=50,
                     titleAngle=270, titleAlign="center", titleBaseline="alphabetic")
)

chart.save("out.html", embed_options={"renderer": "svg", "actions": False})
